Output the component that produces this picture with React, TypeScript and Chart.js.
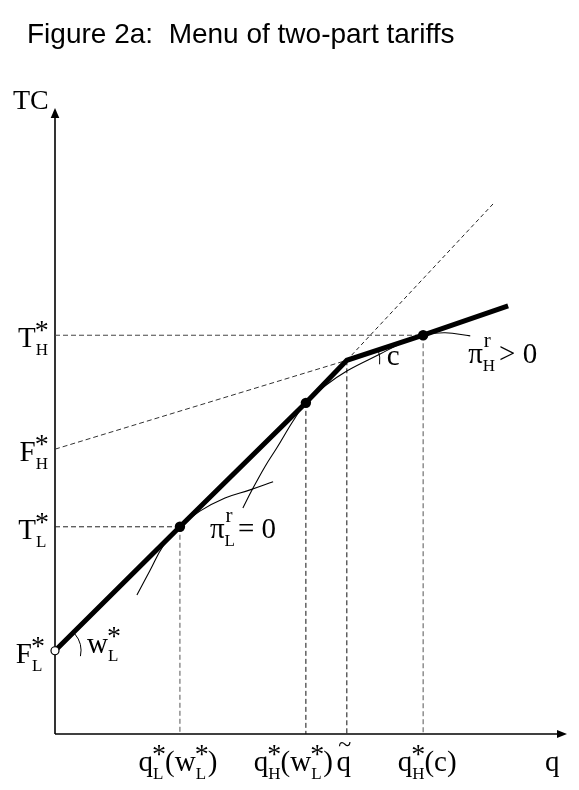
import React, { useEffect, useRef } from 'react';
import { Chart, registerables } from 'chart.js';
Chart.register(...registerables);

const W = 579;
const H = 790;

// axis range (abstract units)
const axisMax = 10;

// Menu of two-part tariffs: F_L*, (q_L*,T_L*), (q_H*(w_L*)), kink at q~, (q_H*(c),T_H*), end
const tariffQ = [0, 2.44, 4.9, 5.7, 7.19, 8.85];
const tariffTC = [1.33, 3.31, 5.29, 5.97, 6.37, 6.84];
// dashed extensions of the two tariff segments
const steepExtQ = [5.7, 8.57];
const steepExtTC = [5.97, 8.48];
const flatExtQ = [0, 5.7];
const flatExtTC = [4.55, 5.97];
// iso-profit curves
const isoLQ = [1.6, 1.86, 2.11, 2.44, 2.83, 3.32, 3.81, 4.26];
const isoLTC = [2.22, 2.62, 3.0, 3.31, 3.56, 3.77, 3.9, 4.03];
const isoHQ = [3.67, 3.85, 4.1, 4.34, 4.65, 4.9, 5.27, 5.7, 6.35, 6.74, 7.19, 7.62, 8.11];
const isoHTC = [3.61, 3.9, 4.27, 4.58, 5.0, 5.29, 5.56, 5.8, 6.07, 6.23, 6.37, 6.41, 6.36];

// ticks
const xTickQ = [2.44, 4.9, 5.7, 7.19];
const xTickTC = [3.31, 5.29, 5.97, 6.37];
const yTickTC = [6.37, 4.55, 3.31, 1.33];

type Tok = { t: string; sup?: string; sub?: string; gap?: number };
const yTickLabels: Tok[][] = [
  [{ t: 'T', sup: '*', sub: 'H' }],
  [{ t: 'F', sup: '*', sub: 'H' }],
  [{ t: 'T', sup: '*', sub: 'L' }],
  [{ t: 'F', sup: '*', sub: 'L' }],
];
const xTickLabels: Tok[][] = [
  [{ t: 'q', sup: '*', sub: 'L' }, { t: '(w', sup: '*', sub: 'L' }, { t: ')' }],
  [{ t: 'q', sup: '*', sub: 'H' }, { t: '(w', sup: '*', sub: 'L' }, { t: ')' }],
  [{ t: 'q' }],
  [{ t: 'q', sup: '*', sub: 'H' }, { t: '(c)' }],
];
const titleText = 'Figure 2a:  Menu of two-part tariffs';
const yAxisTitle = 'TC';
const xAxisTitle = 'q';
const profitLLabel: Tok[] = [{ t: 'π', sup: 'r', sub: 'L' }, { t: '= 0', gap: 3 }];
const profitHLabel: Tok[] = [{ t: 'π', sup: 'r', sub: 'H' }, { t: '> 0', gap: 4 }];
const slopeLLabel: Tok[] = [{ t: 'w', sup: '*', sub: 'L' }];
const slopeHLabel: Tok[] = [{ t: 'c' }];

const SERIF = '"Liberation Serif", "Times New Roman", serif';

function pts(xs: number[], ys: number[]) {
  return xs.map((x, i) => ({ x, y: ys[i] }));
}

function drawMath(
  ctx: CanvasRenderingContext2D,
  toks: Tok[],
  x: number,
  y: number,
  align: 'left' | 'right' | 'center',
  size = 29
) {
  const starSize = 28;
  const letSize = 21;
  const subSize = 17;
  const widths: [number, number][] = [];
  let total = 0;
  for (const k of toks) {
    ctx.font = `${size}px ${SERIF}`;
    const mw = ctx.measureText(k.t).width + (k.gap || 0);
    let sw = 0;
    if (k.sup) {
      ctx.font = `${k.sup === '*' ? starSize : letSize}px ${SERIF}`;
      sw = Math.max(sw, ctx.measureText(k.sup).width - (k.sup === '*' ? 2 : 0));
    }
    if (k.sub) {
      ctx.font = `${subSize}px ${SERIF}`;
      sw = Math.max(sw, ctx.measureText(k.sub).width);
    }
    widths.push([mw, sw]);
    total += mw + sw;
  }
  let cx = align === 'left' ? x : align === 'right' ? x - total : x - total / 2;
  ctx.textAlign = 'left';
  ctx.textBaseline = 'alphabetic';
  ctx.fillStyle = '#000';
  toks.forEach((k, i) => {
    ctx.font = `${size}px ${SERIF}`;
    ctx.fillText(k.t, cx + (k.gap || 0), y);
    cx += widths[i][0];
    if (k.sup) {
      if (k.sup === '*') {
        ctx.font = `${starSize}px ${SERIF}`;
        ctx.fillText(k.sup, cx - 1, y - 8);
      } else {
        ctx.font = `${letSize}px ${SERIF}`;
        ctx.fillText(k.sup, cx + 1, y - 16);
      }
    }
    if (k.sub) {
      ctx.font = `${subSize}px ${SERIF}`;
      ctx.fillText(k.sub, cx, y + 8);
    }
    cx += widths[i][1];
  });
}

const decorPlugin = {
  id: 'decor',
  afterDatasetsDraw(chart: any) {
    const ctx: CanvasRenderingContext2D = chart.ctx;
    const xs = chart.scales.x;
    const ys = chart.scales.y;
    const px = (v: number) => xs.getPixelForValue(v);
    const py = (v: number) => ys.getPixelForValue(v);
    ctx.save();
    // arrowheads
    const ox = px(0);
    const oy = py(0);
    const ty = py(axisMax);
    const tx = px(axisMax);
    ctx.fillStyle = '#000';
    ctx.beginPath();
    ctx.moveTo(ox, ty);
    ctx.lineTo(ox - 4.3, ty + 10);
    ctx.lineTo(ox + 4.3, ty + 10);
    ctx.closePath();
    ctx.fill();
    ctx.beginPath();
    ctx.moveTo(tx, oy);
    ctx.lineTo(tx - 10, oy - 4);
    ctx.lineTo(tx - 10, oy + 4);
    ctx.closePath();
    ctx.fill();

    // angle arcs
    ctx.strokeStyle = '#000';
    ctx.lineWidth = 1;
    ctx.beginPath();
    ctx.arc(px(tariffQ[0]), py(tariffTC[0]), 26, (-40 * Math.PI) / 180, (12 * Math.PI) / 180);
    ctx.stroke();
    ctx.beginPath();
    ctx.arc(px(tariffQ[3]), py(tariffTC[3]), 33, (-18 * Math.PI) / 180, (7 * Math.PI) / 180);
    ctx.stroke();

    // title
    ctx.fillStyle = '#000';
    ctx.font = '28px "Liberation Sans", Arial, sans-serif';
    ctx.textAlign = 'left';
    ctx.textBaseline = 'alphabetic';
    ctx.fillText(titleText, 27, 43);

    // axis titles
    drawMath(ctx, [{ t: yAxisTitle }], ox - 42, ty + 1, 'left', 28);
    drawMath(ctx, [{ t: xAxisTitle }], tx - 22, oy + 37, 'left');

    // y tick labels
    const yOff = [-7, -7, -7, -11];
    yTickTC.forEach((v, i) => {
      drawMath(ctx, yTickLabels[i], ox + yOff[i], py(v) + 12, 'right');
    });

    // x tick labels
    const base = oy + 37;
    drawMath(ctx, xTickLabels[0], px(xTickQ[0]) - 2, base, 'center');
    drawMath(ctx, xTickLabels[1], px(xTickQ[1]) + 27, base, 'right');
    drawMath(ctx, xTickLabels[2], px(xTickQ[2]) - 3, base, 'center');
    // tilde over q~
    ctx.font = `24px ${SERIF}`;
    ctx.textAlign = 'center';
    ctx.fillText('~', px(xTickQ[2]) - 2, base - 19);
    drawMath(ctx, xTickLabels[3], px(xTickQ[3]) + 4, base, 'center');

    // curve / slope labels
    drawMath(ctx, profitLLabel, px(tariffQ[1]) + 30, py(tariffTC[1]) + 11, 'left');
    drawMath(ctx, profitHLabel, px(tariffQ[4]) + 45, py(tariffTC[4]) + 28, 'left');
    drawMath(ctx, slopeLLabel, px(tariffQ[0]) + 32, py(tariffTC[0]) + 2, 'left');
    drawMath(ctx, slopeHLabel, px(tariffQ[3]) + 40, py(tariffTC[3]) + 5, 'left');
    ctx.restore();
  },
};

export default function App() {
  const ref = useRef<HTMLCanvasElement | null>(null);
  useEffect(() => {
    document.body.style.margin = '0';
    const canvas = ref.current!;
    const dash = [5, 3];
    const guides: any[] = [];
    // horizontal guides
    guides.push({ data: [{ x: 0, y: tariffTC[4] }, { x: tariffQ[4], y: tariffTC[4] }], color: '#444' });
    guides.push({ data: [{ x: 0, y: tariffTC[1] }, { x: tariffQ[1], y: tariffTC[1] }], color: '#222' });
    // vertical guides
    const vColors = ['#555', '#111', '#111', '#555'];
    xTickQ.forEach((q, i) => {
      guides.push({ data: [{ x: q, y: xTickTC[i] }, { x: q, y: 0 }], color: vColors[i] });
    });

    const datasets: any[] = [
      {
        label: 'packages',
        data: pts([tariffQ[1], tariffQ[2], tariffQ[4]], [tariffTC[1], tariffTC[2], tariffTC[4]]),
        showLine: false,
        pointRadius: 5.2,
        pointBackgroundColor: '#000',
        pointBorderWidth: 0,
        order: 0,
        clip: false,
      },
      {
        label: 'F_L',
        data: pts([tariffQ[0]], [tariffTC[0]]),
        showLine: false,
        pointRadius: 4,
        pointBackgroundColor: '#fff',
        pointBorderColor: '#000',
        pointBorderWidth: 1.2,
        order: 0,
        clip: false,
      },
      {
        label: 'tariff',
        data: pts(tariffQ, tariffTC),
        borderColor: '#000',
        borderWidth: 5,
        borderJoinStyle: 'miter',
        tension: 0,
        pointRadius: 0,
        order: 1,
        clip: false,
      },
      {
        label: 'isoL',
        data: pts(isoLQ, isoLTC),
        borderColor: '#000',
        borderWidth: 1.1,
        tension: 0.4,
        pointRadius: 0,
        order: 2,
        clip: false,
      },
      {
        label: 'isoH',
        data: pts(isoHQ, isoHTC),
        borderColor: '#000',
        borderWidth: 1.1,
        tension: 0.4,
        pointRadius: 0,
        order: 2,
        clip: false,
      },
      {
        label: 'steepExt',
        data: pts(steepExtQ, steepExtTC),
        borderColor: '#222',
        borderWidth: 1,
        borderDash: [4, 3],
        pointRadius: 0,
        order: 3,
        clip: false,
      },
      {
        label: 'flatExt',
        data: pts(flatExtQ, flatExtTC),
        borderColor: '#333',
        borderWidth: 1,
        borderDash: dash,
        pointRadius: 0,
        order: 3,
        clip: false,
      },
      ...guides.map((g, i) => ({
        label: 'guide' + i,
        data: g.data,
        borderColor: g.color,
        borderWidth: 1,
        borderDash: dash,
        pointRadius: 0,
        order: 3,
        clip: false,
      })),
      {
        label: 'yAxis',
        data: [{ x: 0, y: 0 }, { x: 0, y: axisMax - 0.12 }],
        borderColor: '#000',
        borderWidth: 1.6,
        pointRadius: 0,
        order: 4,
        clip: false,
      },
      {
        label: 'xAxis',
        data: [{ x: 0, y: 0 }, { x: axisMax - 0.15, y: 0 }],
        borderColor: '#000',
        borderWidth: 1.6,
        pointRadius: 0,
        order: 4,
        clip: false,
      },
    ];

    const chart = new Chart(canvas, {
      type: 'line',
      data: { datasets },
      options: {
        animation: false,
        responsive: false,
        maintainAspectRatio: false,
        devicePixelRatio: 1,
        layout: { padding: { left: 55, right: 12, top: 108, bottom: 56 } },
        scales: {
          x: { type: 'linear', min: 0, max: axisMax, display: false },
          y: { type: 'linear', min: 0, max: axisMax, display: false },
        },
        plugins: {
          legend: { display: false },
          tooltip: { enabled: false },
          title: { display: false },
        },
        elements: { point: { radius: 0 } },
      } as any,
      plugins: [decorPlugin],
    });
    return () => chart.destroy();
  }, []);
  return (
    <canvas
      ref={ref}
      width={W}
      height={H}
      style={{ display: 'block', width: W + 'px', height: H + 'px', background: '#fff' }}
    />
  );
}
